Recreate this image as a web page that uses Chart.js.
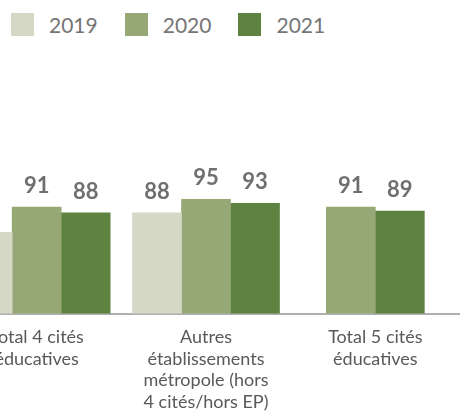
<!DOCTYPE html>
<html>
<head>
<meta charset="utf-8">
<script src="https://cdn.jsdelivr.net/npm/chart.js@4.4.1/dist/chart.umd.min.js"></script>
<style>
  html, body { margin: 0; padding: 0; background: #fff; }
  #wrap { position: relative; width: 460px; height: 412px; overflow: hidden; }
  #legend { position: absolute; left: 11px; top: 13px; display: flex; gap: 27px;
            font-family: Lato, sans-serif; font-size: 21px; color: #757575; }
  #legend .item { display: flex; align-items: center; height: 23px; }
  #legend .box { width: 23px; height: 23px; margin-right: 15px; }
  #box { position: absolute; left: -48px; top: 0; width: 508px; height: 418px; }
</style>
</head>
<body>
<div id="wrap">
  <div id="legend"></div>
  <div id="box"><canvas id="chart"></canvas></div>
</div>
<script>
const categories = [
  ["Total 4 cités", "éducatives"],
  ["Autres", "établissements", "métropole (hors", "4 cités/hors EP)"],
  ["Total 5 cités", "éducatives"]
];
const seriesNames = ["2019", "2020", "2021"];
const seriesColors = ["#d4d8c4", "#95a876", "#5e8341"];
const values2019 = [78, 88, null];
const values2020 = [91, 95, 91];
const values2021 = [88, 93, 89];

const allValues = [values2019, values2020, values2021];

// legend
const legend = document.getElementById("legend");
seriesNames.forEach((name, i) => {
  const item = document.createElement("div");
  item.className = "item";
  item.innerHTML = '<span class="box" style="background:' + seriesColors[i] + '"></span><span>' + name + '</span>';
  legend.appendChild(item);
});

// value labels above bars
const valueLabels = {
  id: "valueLabels",
  afterDatasetsDraw(chart) {
    const ctx = chart.ctx;
    ctx.save();
    ctx.font = "bold 22px Lato";
    ctx.fillStyle = "#6f6f6f";
    ctx.textAlign = "center";
    ctx.textBaseline = "alphabetic";
    chart.data.datasets.forEach((ds, di) => {
      chart.getDatasetMeta(di).data.forEach((bar, i) => {
        if (ds.data[i] == null) return;
        ctx.fillText(ds.data[i], bar.x, bar.y - 14);
      });
    });
    ctx.restore();
  }
};

new Chart(document.getElementById("chart"), {
  type: "bar",
  data: {
    labels: categories,
    datasets: seriesNames.map((name, i) => ({
      label: name,
      data: allValues[i],
      backgroundColor: seriesColors[i],
      barThickness: 49,
      skipNull: true
    }))
  },
  options: {
    responsive: true,
    maintainAspectRatio: false,
    animation: false,
    layout: { padding: 0 },
    plugins: {
      legend: { display: false },
      tooltip: { enabled: false }
    },
    scales: {
      x: {
        grid: { display: false },
        border: { color: "#b0b0b0", width: 2 },
        ticks: {
          color: "#595959",
          font: { family: "Lato", size: 18, lineHeight: 1.2 },
          maxRotation: 0,
          autoSkip: false,
          padding: 5
        }
      },
      y: {
        display: false,
        min: 36,
        max: 198
      }
    }
  },
  plugins: [valueLabels]
});
</script>
</body>
</html>
